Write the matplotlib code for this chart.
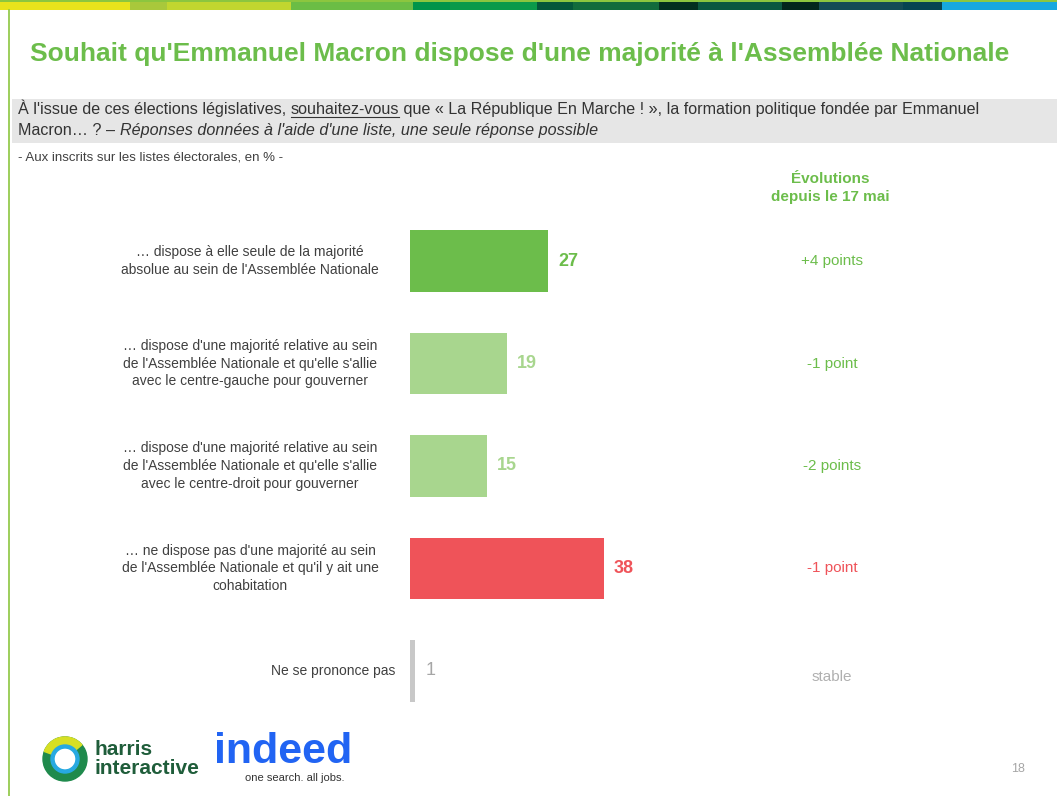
import matplotlib.pyplot as plt
from matplotlib.patches import Rectangle, Wedge

plt.rcParams['font.family'] = ['Liberation Sans', 'DejaVu Sans']

# données
labels = [
    "… dispose à elle seule de la majorité\nabsolue au sein de l'Assemblée Nationale",
    "… dispose d'une majorité relative au sein\nde l'Assemblée Nationale et qu'elle s'allie\navec le centre-gauche pour gouverner",
    "… dispose d'une majorité relative au sein\nde l'Assemblée Nationale et qu'elle s'allie\navec le centre-droit pour gouverner",
    "… ne dispose pas d'une majorité au sein\nde l'Assemblée Nationale et qu'il y ait une\ncohabitation",
    "Ne se prononce pas",
]
values = [27, 19, 15, 38, 1]
evolutions = ["+4 points", "-1 point", "-2 points", "-1 point", "stable"]

bar_colors = ['#6cbd4b', '#a8d68e', '#a8d68e', '#ef5359', '#c8c8c8']
val_colors = ['#6cbd4b', '#a8d68e', '#a8d68e', '#ef5359', '#a6a6a6']
evo_colors = ['#6cbd4b', '#6cbd4b', '#6cbd4b', '#ef5359', '#b0b0b0']

W, H = 1057, 796
fig = plt.figure(figsize=(W / 100, H / 100), dpi=100)

# calque de fond en pixels
bg = fig.add_axes([0, 0, 1, 1])
bg.set_xlim(0, W)
bg.set_ylim(H, 0)
bg.axis('off')

# bandeau de couleurs en haut
band = [(0, 130, '#e8e31c'), (130, 167, '#a9c83b'), (167, 291, '#c2d62f'),
        (291, 413, '#6bbd45'), (413, 450, '#00944a'), (450, 537, '#0b9a4a'),
        (537, 573, '#04573a'), (573, 659, '#126b3c'), (659, 698, '#03301f'),
        (698, 782, '#0b5840'), (782, 819, '#02261c'), (819, 903, '#144c55'),
        (903, 942, '#064451'), (942, 1057, '#17a8df')]
bg.add_patch(Rectangle((0, 0), W, 2, color='#8cc63f', lw=0))
for x0, x1, c in band:
    bg.add_patch(Rectangle((x0, 2), x1 - x0, 8, color=c, lw=0))
bg.plot([9, 9], [10, H], color='#8cc63f', lw=1.2)

# titre
bg.text(30, 54, "Souhait qu'Emmanuel Macron dispose d'une majorité à l'Assemblée Nationale",
        color='#6cbd4b', fontsize=19, fontweight='bold', va='center', ha='left')

# question (morceaux posés sur la même ligne de base)
qs = 11.6
bg.add_patch(Rectangle((12, 99), W - 12, 44, color='#e6e6e6', lw=0))
inv = bg.transData.inverted()


def suite(x, y, s, **kw):
    t = bg.text(x, y, s, fontsize=qs, color='#333333', va='baseline', ha='left', **kw)
    fig.canvas.draw()
    return t, t.get_window_extent().transformed(inv).x1


_, x = suite(18, 114, "À l'issue de ces élections législatives, ")
tb, x2 = suite(x, 114, "souhaitez-vous")
bg.plot([x, x2], [117, 117], color='#333333', lw=0.8)
suite(x2, 114, " que « La République En Marche ! », la formation politique fondée par Emmanuel")
_, x = suite(18, 135, "Macron… ? – ")
suite(x, 135, "Réponses données à l'aide d'une liste, une seule réponse possible", style='italic')

bg.text(18, 157, "- Aux inscrits sur les listes électorales, en % -",
        fontsize=9.5, color='#404040', va='center')

bg.text(830, 188, "Évolutions\ndepuis le 17 mai", color='#6cbd4b', fontsize=11,
        fontweight='bold', ha='center', va='center', linespacing=1.4)

# graphique en barres
x0px, ppu = 410, 5.1
ax = fig.add_axes([x0px / W, 1 - 722 / H, 40 * ppu / W, 512 / H])
ypos = list(range(len(values)))
ax.barh(ypos, values, height=0.6, color=bar_colors, edgecolor='none')
ax.set_xlim(0, 40)
ax.set_ylim(4.5, -0.5)
ax.axis('off')

for i, (lab, v, ev) in enumerate(zip(labels, values, evolutions)):
    ax.text(v + 2, i, str(v), color=val_colors[i], fontsize=13,
            fontweight='bold' if i < 4 else 'normal', va='center', ha='left')
    if i < 4:
        ax.text((250 - x0px) / ppu, i, lab, ha='center', va='center', fontsize=10,
                color='#404040', linespacing=1.35, clip_on=False)
    else:
        ax.text((395 - x0px) / ppu, i, lab, ha='right', va='center', fontsize=10,
                color='#404040', clip_on=False)
    ax.text((832 - x0px) / ppu, i + (0.06 if i == 4 else 0), ev, ha='center', va='center',
            fontsize=11, color=evo_colors[i], clip_on=False)

# pied de page : logos
bg.add_patch(Wedge((65, 759), 22, 0, 360, width=8, color='#1f8a4c'))
bg.add_patch(Wedge((65, 759), 22, 200, 320, width=8, color='#d7df23'))
bg.add_patch(Wedge((65, 759), 14, 0, 360, width=3, color='#27a9e1'))
bg.text(95, 759, "harris\ninteractive", color='#1f5d3a', fontsize=15, fontweight='bold',
        va='center', ha='left', linespacing=0.95)
bg.text(214, 752, "indeed", color='#2164f3', fontsize=31, fontweight='bold',
        va='center', ha='left')
bg.text(245, 778, "one search. all jobs.", color='#333333', fontsize=8, va='center',
        ha='left')
bg.text(1018, 769, "18", color='#a6a6a6', fontsize=9, va='center', ha='center')

fig.savefig('out.png', dpi=100)
